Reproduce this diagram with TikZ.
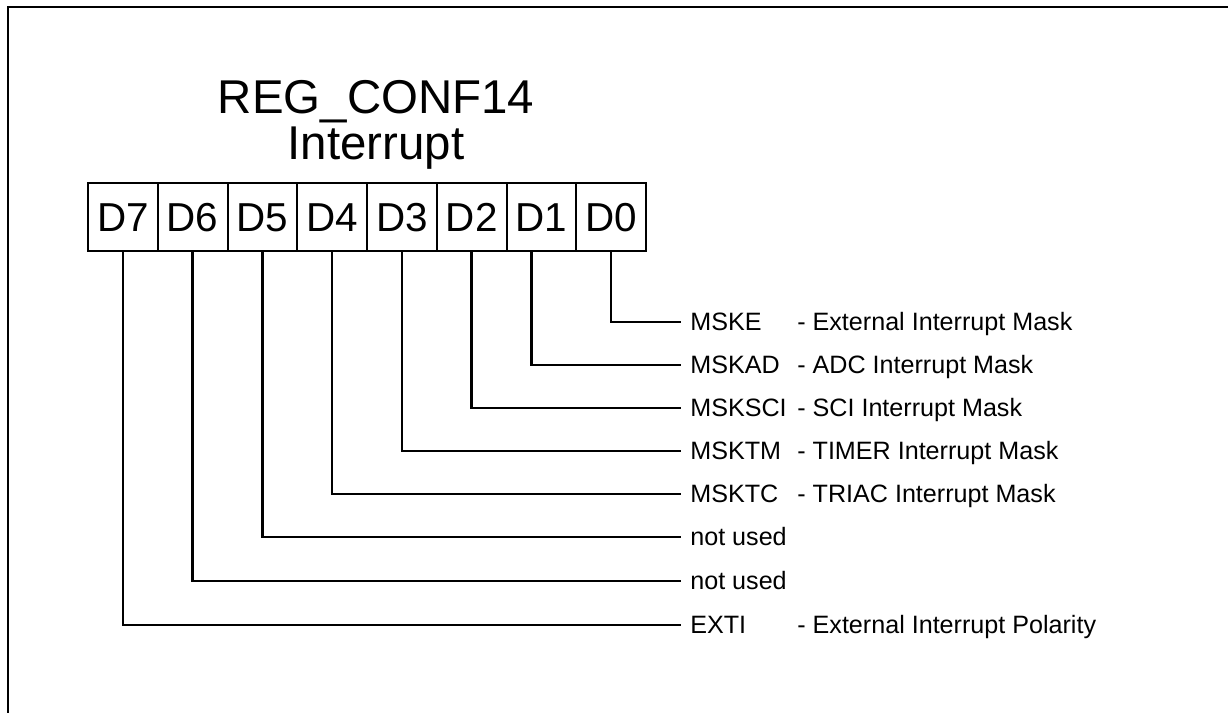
\documentclass[tikz,border=0pt]{standalone}
\usepackage{fontspec}
\setmainfont{Liberation Sans}
\usepackage{xcolor}
\usepackage{tikz}

\newcommand{\bitlabel}[2]{\makebox[2.14cm][l]{#1}- #2}

\begin{document}
\begin{tikzpicture}[x=0.02cm, y=-0.02cm,
  cell/.style={draw, line width=1.1pt, minimum width=1.395cm, minimum height=1.36cm,
    inner sep=0pt, outer sep=0pt, text height=16.5pt, text depth=0pt,
    font=\fontsize{23}{27}\selectfont},
  lbl/.style={anchor=west, inner xsep=0.18cm, inner ysep=0pt, text height=10.2pt,
    text depth=0pt, font=\fontsize{14.3}{17}\selectfont},
  wire/.style={line width=1.5pt},
  frame/.style={line width=1.5pt}]
\useasboundingbox (0,0) rectangle (1228,713);
% Frame
\draw[frame] (8,713) -- (8,7) -- (1228,7);
% Title
\node[anchor=base, font=\fontsize{27}{32}\selectfont] (title) at (376,113) {REG\_CONF14};
\node[anchor=base, font=\fontsize{27}{32}\selectfont] (sub) at (376,159) {Interrupt};
% Register bits
\foreach \i [count=\k from 0] in {7,6,5,4,3,2,1,0}
  \node[cell] (d\i) at (122.9+69.75*\k,217) {D\i};
% Bit descriptions
\node[lbl] (b0) at (681,322) {\bitlabel{MSKE}{External Interrupt Mask}};
\node[lbl] (b1) at (681,365) {\bitlabel{MSKAD}{ADC Interrupt Mask}};
\node[lbl] (b2) at (681,408) {\bitlabel{MSKSCI}{SCI Interrupt Mask}};
\node[lbl] (b3) at (681,451) {\bitlabel{MSKTM}{TIMER Interrupt Mask}};
\node[lbl] (b4) at (681,494) {\bitlabel{MSKTC}{TRIAC Interrupt Mask}};
\node[lbl] (b5) at (681,537) {not used};
\node[lbl] (b6) at (681,581) {not used};
\node[lbl] (b7) at (681,625) {\bitlabel{EXTI}{External Interrupt Polarity}};
% Connectors
\foreach \i in {0,2,3,4,5,6,7}
  \draw[wire] (d\i.south) |- (b\i.west);
\draw[wire] ([xshift=-0.2cm]d1.south) |- (b1.west);
\end{tikzpicture}
\end{document}
